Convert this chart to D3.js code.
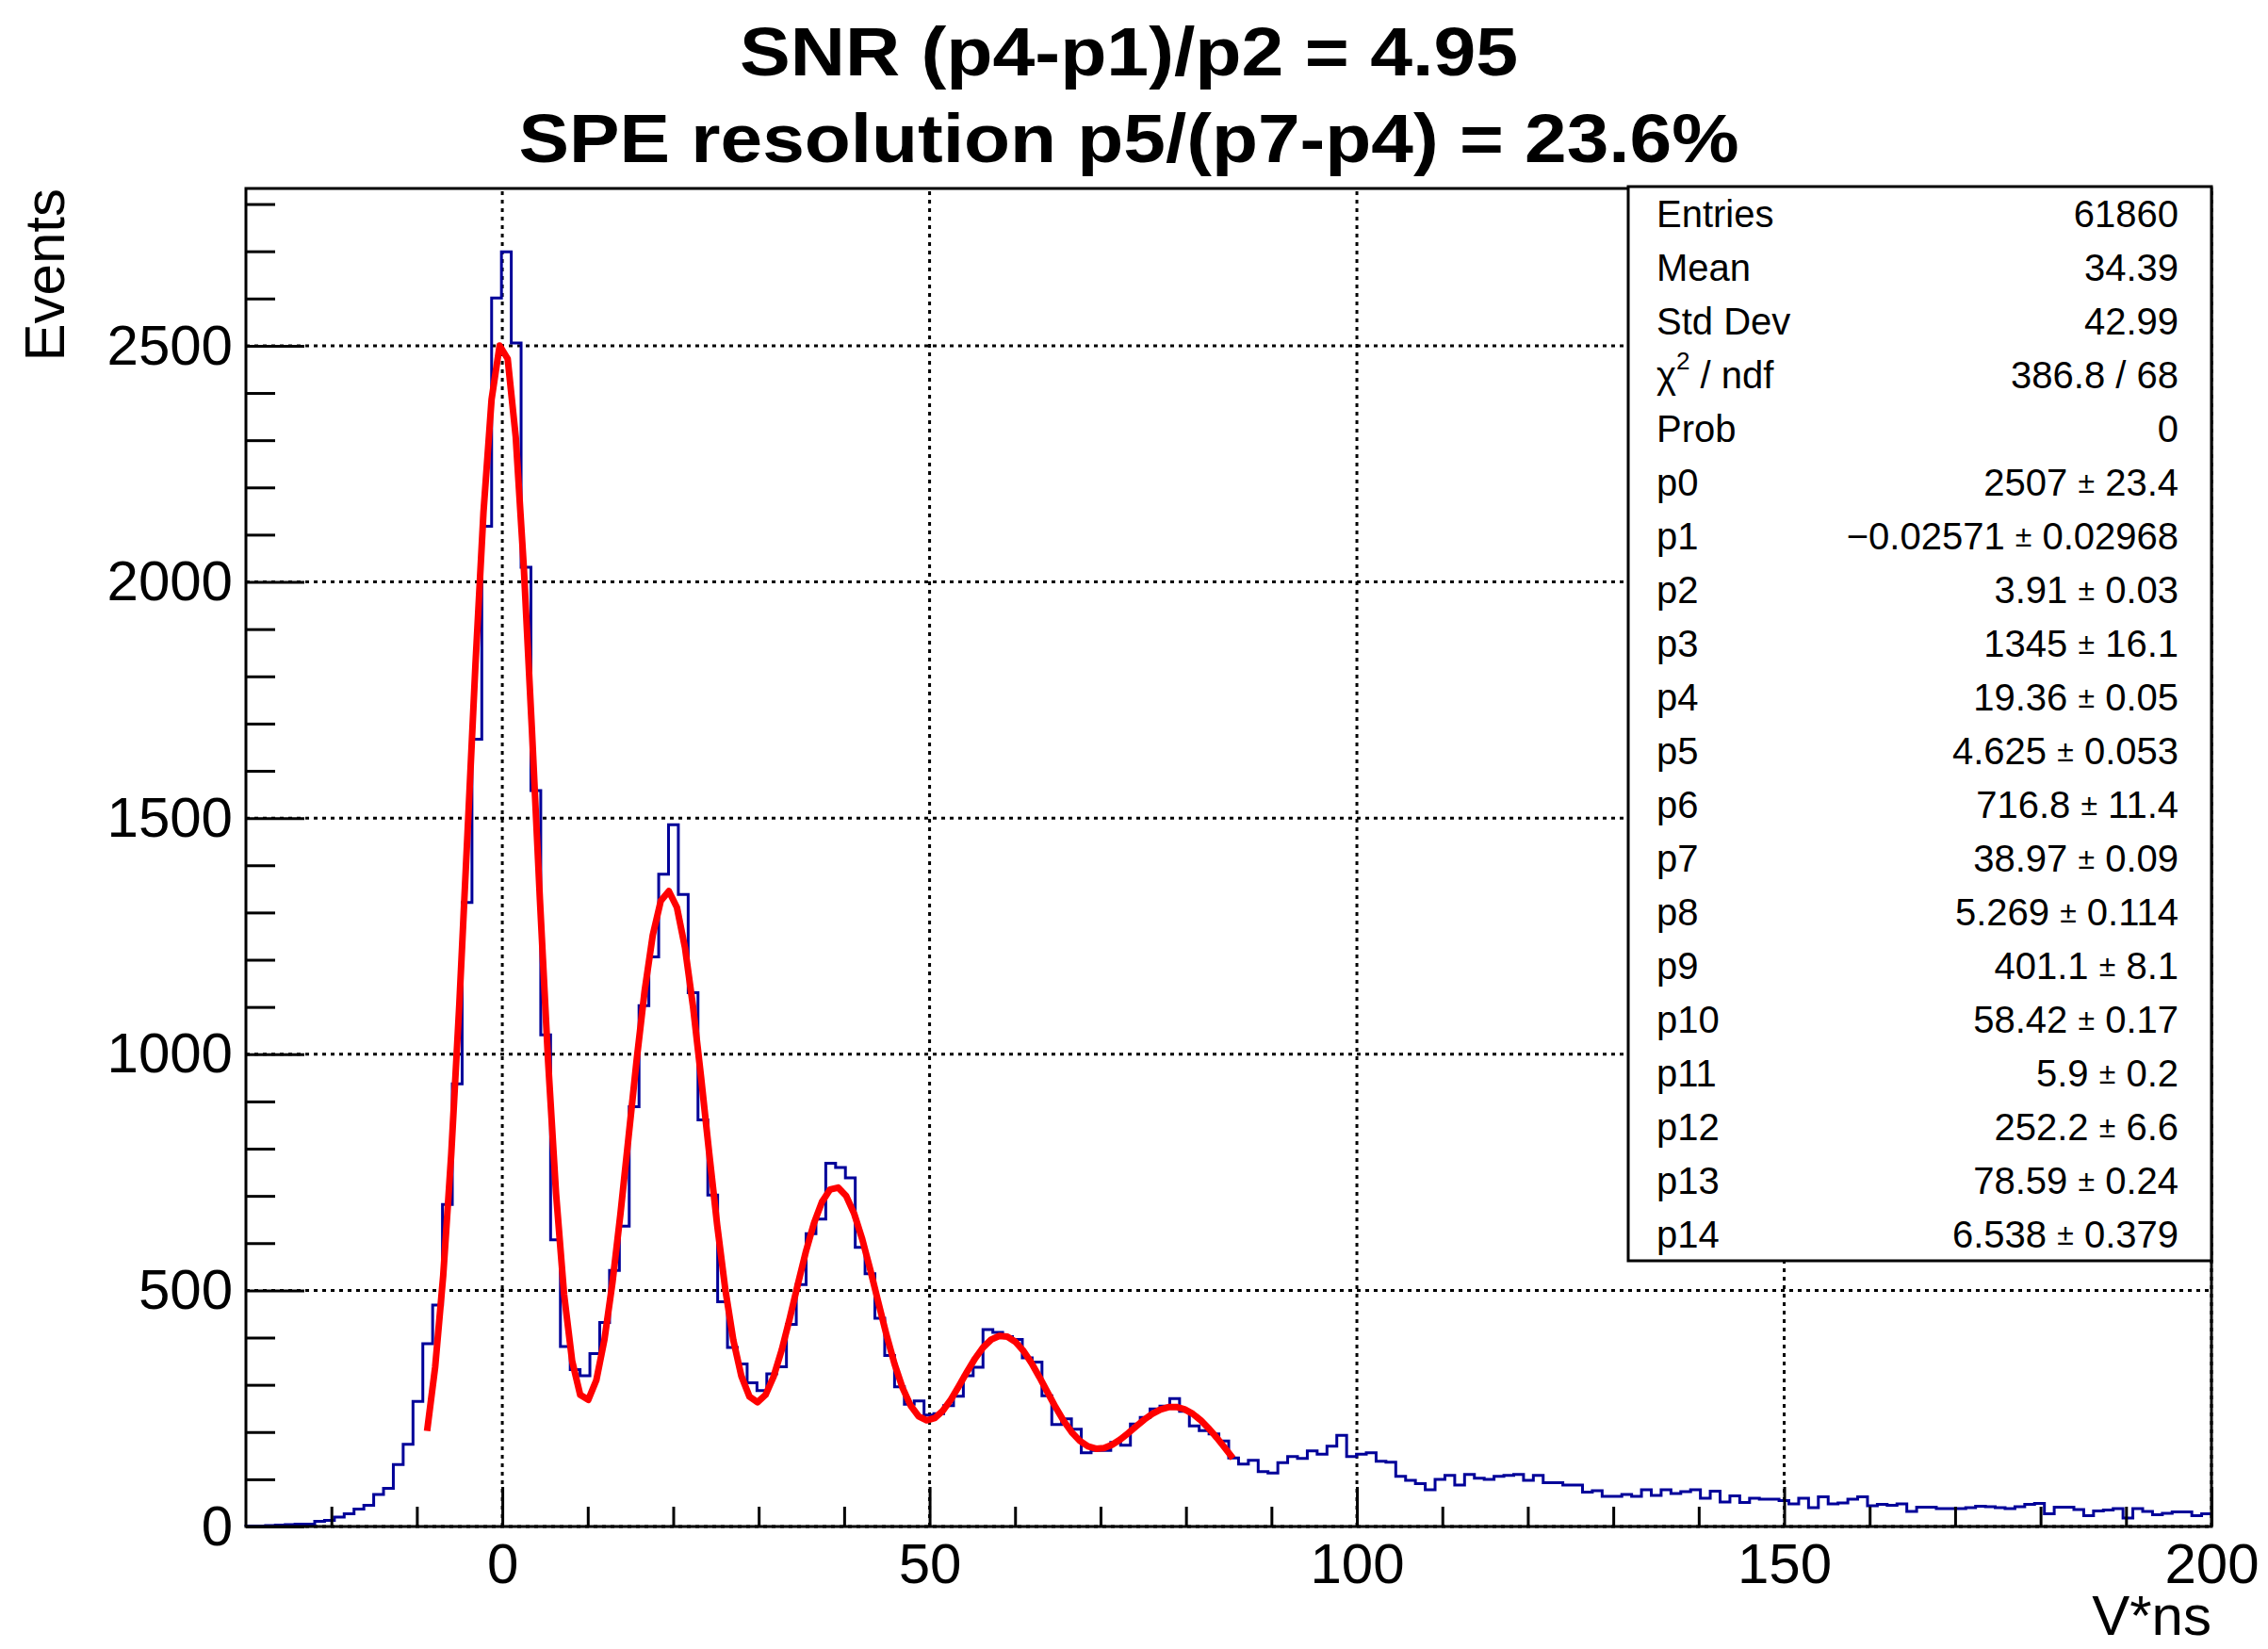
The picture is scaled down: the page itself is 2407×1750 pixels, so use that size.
<!DOCTYPE html>
<html>
<head>
<meta charset="utf-8">
<script src="https://cdn.jsdelivr.net/npm/d3@7"></script>
<style>
  body { margin: 0; background: #fff; }
  text { font-family: "Liberation Sans", Arial, Helvetica, sans-serif; }
</style>
</head>
<body>
<svg id="chart" width="2407" height="1750"></svg>
<script>
// histogram: 200 bins between -30 and 200 (bin width 1.15)
const xRange = [-30, 200];
const counts = [
  1, 1, 2, 3, 4, 5, 5, 11, 13, 20,
  27, 37, 45, 68, 81, 131, 174, 265, 387, 469,
  682, 937, 1321, 1667, 2118, 2601, 2699, 2506, 2031, 1558,
  1041, 607, 381, 332, 319, 366, 432, 542, 636, 889,
  1103, 1206, 1381, 1486, 1338, 1130, 861, 702, 476, 379,
  344, 304, 288, 323, 338, 428, 512, 620, 651, 769,
  760, 738, 591, 535, 441, 362, 296, 259, 266, 236,
  239, 256, 276, 319, 337, 417, 411, 402, 396, 357,
  348, 277, 216, 228, 206, 156, 161, 161, 178, 172,
  217, 231, 249, 255, 271, 244, 213, 203, 196, 181,
  145, 132, 140, 116, 113, 135, 148, 144, 160, 153,
  170, 193, 148, 153, 156, 138, 136, 106, 98, 91,
  78, 100, 108, 88, 110, 102, 100, 106, 108, 110,
  98, 108, 93, 93, 88, 88, 73, 76, 64, 64,
  68, 64, 78, 66, 78, 70, 74, 78, 60, 75,
  52, 65, 51, 60, 58, 58, 55, 48, 60, 40,
  63, 48, 50, 58, 63, 44, 47, 45, 48, 32,
  41, 41, 38, 38, 38, 40, 43, 42, 40, 38,
  42, 47, 49, 27, 41, 41, 36, 23, 33, 35,
  38, 18, 38, 32, 25, 28, 31, 31, 23, 27
];
const yMax = 2833;

const titleLines = ["SNR (p4-p1)/p2 = 4.95", "SPE resolution p5/(p7-p4) = 23.6%"];
const xTitle = "V*ns";
const yTitle = "Events";
const xTicks = [0, 50, 100, 150, 200];
const yTicks = [0, 500, 1000, 1500, 2000, 2500];

// stats box
const statNames = ["Entries", "Mean", "Std Dev", "chi2", "Prob"];
const statValues = ["61860", "34.39", "42.99", "386.8 / 68", "0"];
// fit = 5 gaussians: p(3i) amplitude, p(3i+1) mean, p(3i+2) sigma
const parValues = ["2507", "-0.02571", "3.91", "1345", "19.36", "4.625", "716.8", "38.97",
                   "5.269", "401.1", "58.42", "5.9", "252.2", "78.59", "6.538"];
const parErrors = ["23.4", "0.02968", "0.03", "16.1", "0.05", "0.053", "11.4", "0.09",
                   "0.114", "8.1", "0.17", "0.2", "6.6", "0.24", "0.379"];
const fitRange = [-8.8, 85.5];

const svg = d3.select("#chart");
const frame = {left: 261, right: 2347, top: 200, bottom: 1620};

const x = d3.scaleLinear().domain(xRange).range([frame.left, frame.right]);
const y = d3.scaleLinear().domain([0, yMax]).range([frame.bottom, frame.top]);

svg.append("rect").attr("width", 2407).attr("height", 1750).attr("fill", "#fff");

// dotted grid on the major ticks
const grid = svg.append("g")
    .attr("stroke", "#000")
    .attr("stroke-width", 3)
    .attr("stroke-dasharray", "4,5");
grid.selectAll(".gx")
    .data(xTicks).enter()
    .append("line")
    .attr("x1", d => x(d)).attr("x2", d => x(d))
    .attr("y1", frame.bottom).attr("y2", frame.top);
grid.selectAll(".gy")
    .data(yTicks).enter()
    .append("line")
    .attr("x1", frame.left).attr("x2", frame.right)
    .attr("y1", d => y(d)).attr("y2", d => y(d));

// histogram outline
const binWidth = (xRange[1] - xRange[0]) / counts.length;
const steps = [[xRange[0], 0]]
    .concat(counts.map((c, i) => [xRange[0] + i * binWidth, c]))
    .concat([[xRange[1], counts[counts.length - 1]]]);
svg.append("path")
    .attr("d", d3.line().x(d => x(d[0])).y(d => y(d[1])).curve(d3.curveStepAfter)(steps))
    .attr("fill", "none")
    .attr("stroke", "#000099")
    .attr("stroke-width", 3);

// fit function drawn with 100 segments like ROOT does
const p = parValues.map(Number);
function fitFunc(v) {
    let s = 0;
    for (let i = 0; i < 5; i++) {
        const t = (v - p[3 * i + 1]) / p[3 * i + 2];
        s += p[3 * i] * Math.exp(-0.5 * t * t);
    }
    return s;
}
const npx = 100;
const fitPts = d3.range(npx + 1).map(i => {
    const v = fitRange[0] + i * (fitRange[1] - fitRange[0]) / npx;
    return [v, fitFunc(v)];
});
svg.append("path")
    .attr("d", d3.line().x(d => x(d[0])).y(d => y(d[1]))(fitPts))
    .attr("fill", "none")
    .attr("stroke", "#ff0000")
    .attr("stroke-width", 7)
    .attr("stroke-linejoin", "round");

// axes: ticks point inside the frame
function styleAxis(g, fontSize) {
    g.select(".domain").remove();
    g.selectAll("line").attr("stroke-width", 3);
    g.selectAll("text").attr("font-size", fontSize).attr("fill", "#000");
}
const xMinor = d3.range(-20, 201, 10).filter(d => d % 50 !== 0);
const yMinor = d3.range(0, yMax, 100).filter(d => d % 500 !== 0);

svg.append("g")
    .attr("transform", "translate(0," + frame.bottom + ")")
    .call(d3.axisBottom(x).tickValues(xMinor).tickFormat("").tickSizeInner(-21).tickSizeOuter(0))
    .call(g => styleAxis(g, 60));
svg.append("g")
    .attr("transform", "translate(0," + frame.bottom + ")")
    .call(d3.axisBottom(x).tickValues(xTicks).tickFormat(d3.format("d")).tickSizeInner(-42).tickSizeOuter(0).tickPadding(17))
    .call(g => styleAxis(g, 60));
svg.append("g")
    .attr("transform", "translate(" + frame.left + ",0)")
    .call(d3.axisLeft(y).tickValues(yMinor).tickFormat("").tickSizeInner(-31).tickSizeOuter(0))
    .call(g => styleAxis(g, 60));
svg.append("g")
    .attr("transform", "translate(" + frame.left + ",0)")
    .call(d3.axisLeft(y).tickValues(yTicks).tickFormat(d3.format("d")).tickSizeInner(-62).tickSizeOuter(0).tickPadding(14))
    .call(g => styleAxis(g, 60));

// frame
svg.append("rect")
    .attr("x", frame.left).attr("y", frame.top)
    .attr("width", frame.right - frame.left).attr("height", frame.bottom - frame.top)
    .attr("fill", "none").attr("stroke", "#000").attr("stroke-width", 3);

// axis titles
svg.append("text")
    .attr("x", frame.right).attr("y", 1735)
    .attr("text-anchor", "end").attr("font-size", 60)
    .text(xTitle);
svg.append("text")
    .attr("transform", "translate(68," + frame.top + ") rotate(-90)")
    .attr("text-anchor", "end").attr("font-size", 60)
    .text(yTitle);

// title
const titleWidths = [826, 1295];
const titleBase = [80, 172];
titleLines.forEach((t, i) => {
    svg.append("text")
        .attr("x", 1198).attr("y", titleBase[i])
        .attr("text-anchor", "middle")
        .attr("font-size", 72).attr("font-weight", "bold")
        .attr("textLength", titleWidths[i]).attr("lengthAdjust", "spacingAndGlyphs")
        .text(t);
});

// stats box
const box = {x: 1728, y: 198, w: 619, h: 1140};
svg.append("rect")
    .attr("x", box.x).attr("y", box.y).attr("width", box.w).attr("height", box.h)
    .attr("fill", "#fff").attr("stroke", "#000").attr("stroke-width", 3);

const rows = statNames.map((n, i) => ({name: n, value: statValues[i]}))
    .concat(parValues.map((v, i) => ({name: "p" + i, value: v.replace("-", "\u2212"), err: parErrors[i]})));
const rowH = box.h / rows.length;

rows.forEach((r, i) => {
    const cy = box.y + rowH * (i + 0.5);
    const label = svg.append("text")
        .attr("x", box.x + 30).attr("y", cy)
        .attr("dominant-baseline", "central")
        .attr("font-size", 40);
    if (r.name === "chi2") {
        label.append("tspan").text("\u03c7");
        label.append("tspan").attr("font-size", 26).attr("dy", -15).text("2");
        label.append("tspan").attr("dy", 15).text(" / ndf");
    } else {
        label.text(r.name);
    }
    const val = svg.append("text")
        .attr("x", box.x + 584).attr("y", cy)
        .attr("dominant-baseline", "central")
        .attr("text-anchor", "end")
        .attr("font-size", 40);
    if (r.err) {
        val.append("tspan").text(r.value + " ");
        val.append("tspan").attr("font-size", 32).text("\u00b1");
        val.append("tspan").text(" " + r.err);
    } else {
        val.text(r.value);
    }
});
</script>
</body>
</html>
